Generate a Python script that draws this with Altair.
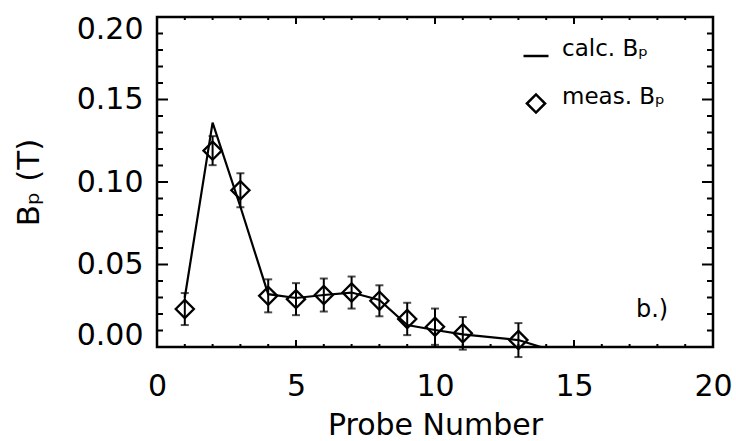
import altair as alt
import pandas as pd

# measured probe field (diamonds with error bars)
probe = [1, 2, 3, 4, 5, 6, 7, 8, 9, 10, 11, 13]
meas_bp = [0.023, 0.119, 0.095, 0.031, 0.029, 0.0315, 0.033, 0.028, 0.017, 0.0123, 0.0083, 0.0042]
meas_err = [0.0097, 0.0088, 0.0103, 0.0100, 0.0097, 0.0100, 0.0097, 0.0094, 0.0098, 0.0110, 0.0099, 0.0103]

# calculated probe field (solid line)
calc_probe = [1, 2, 3, 4, 5, 6, 7, 8, 9, 10, 11, 13, 14]
calc_bp = [0.030, 0.136, 0.085, 0.032, 0.0297, 0.0315, 0.033, 0.0285, 0.0133, 0.0103, 0.0077, 0.0042, -0.001]

# axis ticks
x_major = [0, 5, 10, 15, 20]
x_minor = [1, 2, 3, 4, 6, 7, 8, 9, 11, 12, 13, 14, 16, 17, 18, 19]
y_major = [0.00, 0.05, 0.10, 0.15, 0.20]
y_minor = [0.01, 0.02, 0.03, 0.04, 0.06, 0.07, 0.08, 0.09,
           0.11, 0.12, 0.13, 0.14, 0.16, 0.17, 0.18, 0.19]

series_names = ["calc. B\u209a", "meas. B\u209a"]
x_title = "Probe Number"
y_title = "B\u209a (T)"

W, H = 556, 330
AXFONT = "DejaVu Sans"

xs = alt.Scale(domain=[0, 20], nice=False, zero=False)
ys = alt.Scale(domain=[0, 0.2], nice=False, zero=False)

xaxis = alt.Axis(values=x_major, ticks=False, domain=False, grid=False,
                 labelFont=AXFONT, labelFontSize=30, labelColor="black",
                 labelPadding=24, labelFlush=False,
                 titleFont=AXFONT, titleFontSize=30, titleFontWeight="normal",
                 titleColor="black", titlePadding=9)
yaxis = alt.Axis(values=y_major, format=".2f", ticks=False, domain=False, grid=False,
                 labelFont=AXFONT, labelFontSize=30, labelColor="black",
                 labelPadding=14, labelFlush=True, labelFlushOffset=3,
                 titleFont=AXFONT, titleFontSize=31, titleFontWeight="normal",
                 titleColor="black", titlePadding=31)


def X(field):
    return alt.X(field, scale=xs, axis=xaxis, title=x_title)


def Y(field):
    return alt.Y(field, scale=ys, axis=yaxis, title=y_title)


meas = pd.DataFrame({
    "probe": probe,
    "bp": meas_bp,
    "lo": [v - e for v, e in zip(meas_bp, meas_err)],
    "hi": [v + e for v, e in zip(meas_bp, meas_err)],
    "series": [series_names[1]] * len(probe),
})
calc = pd.DataFrame({"probe": calc_probe, "bp": calc_bp})

legend = alt.Legend(
    orient="none", legendX=365, legendY=25, title=None,
    labelFont="DejaVu Sans", labelFontSize=23, labelColor="black",
    labelBaseline="alphabetic",
    symbolStrokeWidth=2.5, symbolStrokeColor="black",
    rowPadding=24, labelOffset=12, padding=0,
)

line = alt.Chart(calc).mark_line(color="black", strokeWidth=2.2, clip=True).encode(
    x=X("probe:Q"), y=Y("bp:Q"),
)

err = alt.Chart(meas).mark_rule(color="black", strokeWidth=2).encode(
    x=X("probe:Q"), y=Y("lo:Q"), y2="hi:Q",
)
cap_lo = alt.Chart(meas).mark_tick(color="black", orient="horizontal", size=8, thickness=2).encode(
    x=X("probe:Q"), y=Y("lo:Q"),
)
cap_hi = alt.Chart(meas).mark_tick(color="black", orient="horizontal", size=8, thickness=2).encode(
    x=X("probe:Q"), y=Y("hi:Q"),
)

points = alt.Chart(meas).mark_point(filled=False, color="black", strokeWidth=2.3, opacity=1).encode(
    x=X("probe:Q"),
    y=Y("bp:Q"),
    shape=alt.Shape("series:N", scale=alt.Scale(domain=series_names, range=["stroke", "diamond"]),
                    legend=legend),
    size=alt.Size("series:N", scale=alt.Scale(domain=series_names, range=[625, 330]),
                  legend=legend),
)


def xticks(vals, length, top):
    df = pd.DataFrame({"v": vals})
    if top:
        yy, yy2 = alt.value(0), alt.value(length)
    else:
        yy, yy2 = alt.value(H), alt.value(H - length)
    return alt.Chart(df).mark_rule(color="black", strokeWidth=2).encode(
        x=X("v:Q"), y=yy, y2=yy2)


def yticks(vals, length, right):
    df = pd.DataFrame({"v": vals})
    if right:
        xx, xx2 = alt.value(W), alt.value(W - length)
    else:
        xx, xx2 = alt.value(0), alt.value(length)
    return alt.Chart(df).mark_rule(color="black", strokeWidth=2).encode(
        y=Y("v:Q"), x=xx, x2=xx2)


ticks = [
    xticks(x_major, 7, False), xticks(x_minor, 3, False),
    xticks(x_major, 7, True), xticks(x_minor, 3, True),
    yticks(y_major, 11, False), yticks(y_minor, 6, False),
    yticks(y_major, 11, True), yticks(y_minor, 6, True),
]

panel_label = alt.Chart(pd.DataFrame({"t": ["b.)"]})).mark_text(
    font="DejaVu Sans", fontSize=24, color="black", align="center", baseline="middle"
).encode(text="t:N", x=alt.value(495), y=alt.value(293))

chart = alt.layer(points, line, err, cap_lo, cap_hi, *ticks, panel_label).properties(
    width=W, height=H,
    autosize=alt.AutoSizeParams(type="none"),
    padding={"left": 157, "top": 17, "right": 23, "bottom": 94},
    background="white",
).configure_view(stroke="black", strokeWidth=2.5)

chart.save("out.html", embed_options={"renderer": "svg", "actions": False})
